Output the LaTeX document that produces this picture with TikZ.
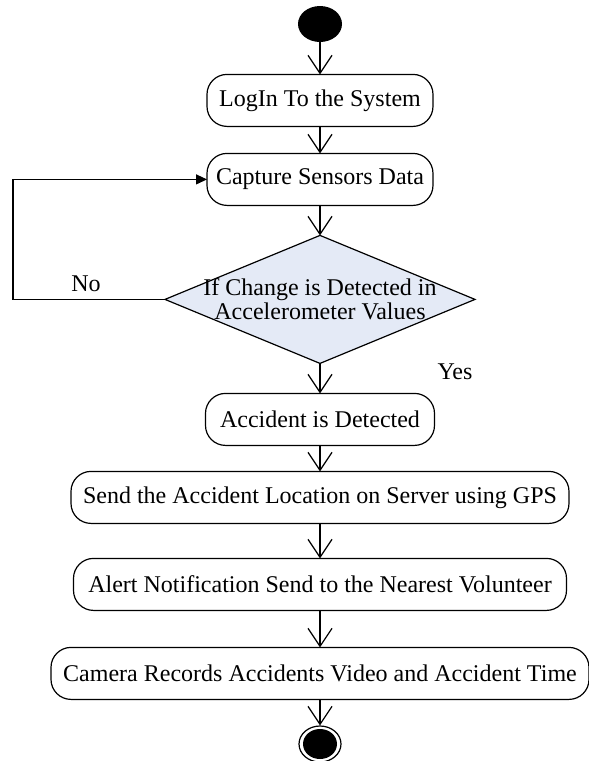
\documentclass[tikz,border=0pt]{standalone}
\usepackage{fontspec}
\setmainfont{Liberation Serif}
\usetikzlibrary{positioning,arrows.meta,shapes.geometric}
\definecolor{decisionblue}{RGB}{228,234,246}

\begin{document}
\begin{tikzpicture}[x=0.5pt, y=-0.5pt, font=\fontsize{12pt}{13pt}\selectfont,
  act/.style={draw, rounded corners=10pt, align=center, inner sep=3pt,
              minimum height=26pt, outer sep=0pt, line width=0.6pt},
  decide/.style={draw, diamond, fill=decisionblue, minimum width=155pt,
                 minimum height=64pt, inner sep=0pt, outer sep=0pt, line width=0.6pt},
  arr/.style={-{Straight Barb[length=9pt, width=12pt]}, line width=0.6pt},
  back/.style={-{Triangle[length=5.5pt, width=5pt]}, line width=0.6pt}]
\useasboundingbox (0,0) rectangle (589,761);
\node[ellipse, fill=black, minimum width=22pt, minimum height=18pt, inner sep=0pt] (start) at (320,24) {};
\node[act, minimum width=113pt, below=16pt of start] (login) {LogIn To the System};
\node[act, minimum width=113pt, below=13.5pt of login] (capture) {Capture Sensors Data};
\node[decide, below=15pt of capture] (decision) {};
\node[align=center, font=\fontsize{12pt}{12pt}\selectfont] (condition) at (decision)
  {If Change is Detected in\\Accelerometer Values};
\node[act, minimum width=114.5pt, below=15pt of decision] (accident) {Accident is Detected};
\node[act, minimum width=249pt, below=13pt of accident] (locate)
  {Send the Accident Location on Server using GPS};
\node[act, minimum width=246.5pt, below=17.5pt of locate] (alert)
  {Alert Notification Send to the Nearest Volunteer};
\node[act, minimum width=269pt, below=18.5pt of alert] (camera)
  {Camera Records Accidents Video and Accident Time};
\node[draw, ellipse, minimum width=21pt, minimum height=18pt, inner sep=0pt,
      line width=0.6pt, below=13pt of camera] (finish) {};
\node[ellipse, fill=black, minimum width=17pt, minimum height=15pt, inner sep=0pt] (finishdot) at (finish) {};
\node (yes) at ([shift={(67.5pt,-4pt)}]decision.south) {Yes};
\draw[arr] (start) -- (login);
\draw[arr] (login) -- (capture);
\draw[arr] (capture) -- (decision);
\draw[arr] (decision) -- (accident);
\draw[arr] (accident) -- (locate);
\draw[arr] (locate) -- (alert);
\draw[arr] (alert) -- (camera);
\draw[arr] (camera) -- (finish);
\draw[back] (decision.west) -- node[above, pos=0.52]{No} ++(-152,0) |- (capture.west);
\end{tikzpicture}
\end{document}
